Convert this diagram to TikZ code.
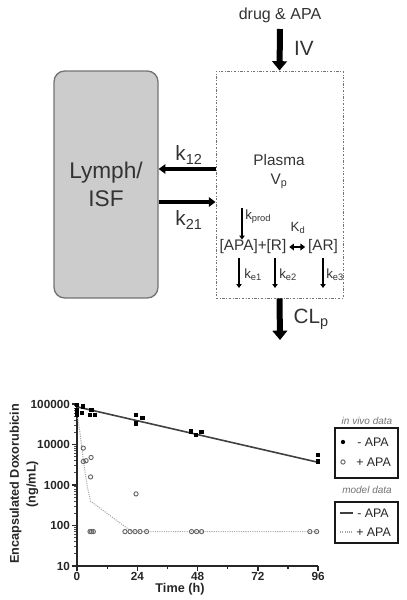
\documentclass[tikz,border=0pt]{standalone}
\usepackage{fontspec}
\setmainfont{Liberation Sans}
\usetikzlibrary{arrows.meta,calc}

\begin{document}
\begin{tikzpicture}[x=0.75pt,y=-0.75pt,
    compartment/.style ={draw=black!55, fill=black!20, line width=1pt, rounded corners=8pt,
      minimum width=78pt, minimum height=170.25pt, align=center,
      font=\fontsize{17}{21}\selectfont, text=black!80},
    plasmabox/.style ={draw=black!55, line width=0.7pt,
      dash pattern=on 1.8pt off 1.2pt on 0.6pt off 1.2pt,
      minimum width=95.25pt, minimum height=170.25pt},
    bigflow/.style ={line width=4.5pt, -{Triangle[width=11pt,length=7pt]}},
    flow/.style ={line width=2.4pt, -{Triangle[width=7pt,length=5pt]}},
    rate/.style ={line width=1.5pt, -{Triangle[width=4pt,length=3pt]}},
    bind/.style ={line width=2pt, {Triangle[width=5pt,length=3.5pt]}-{Triangle[width=5pt,length=3.5pt]}},
    biglab/.style ={font=\fontsize{15.5}{18}\selectfont, text=black!80},
    txt/.style ={font=\fontsize{11.5}{14}\selectfont, text=black!80, inner sep=1pt},
    small/.style ={font=\fontsize{10}{12}\selectfont, text=black!80, inner sep=0pt},
    ticklab/.style ={font=\bfseries\fontsize{8.8}{10}\selectfont, text=black!85, inner sep=1pt},
    axislab/.style ={font=\bfseries\fontsize{9.5}{12.5}\selectfont, text=black!85},
    legtitle/.style ={font=\itshape\fontsize{7.5}{9}\selectfont, text=black!55},
    legtext/.style ={font=\fontsize{9.3}{11}\selectfont, text=black!85, inner sep=0pt, anchor=west},
    axis/.style ={line width=1.1pt, black!85},
    legbox/.style ={line width=1.5pt, black!90}]
   \useasboundingbox (0,0) rectangle (407,600);

   % compartment model
   \node[compartment] (L) at (106,184.5) {Lymph/\\ISF};
   \node[plasmabox] (P) at (279.5,184.5) {};
   \node[font=\fontsize{12}{14}\selectfont, text=black!80] (dose) at (280,15) {drug \& APA};
   \coordinate (ivtop) at (280,29);
   \node[biglab] (iv) at (304,48) {IV};
   \node[txt, align=center] (plasma) at (279,172) {Plasma\\V\textsubscript{p}};
   \node[txt, inner sep=0pt] (apr) at (253,247) {[APA]+[R]};
   \node[txt, inner sep=0pt] (ar) at (323,247) {[AR]};
   \coordinate (kp) at (242,208);
   \coordinate (e1) at (239,288);
   \coordinate (e2) at (275,288);
   \coordinate (e3) at (323,288);
   \coordinate (clp) at (280,340);

   \draw[bigflow] (ivtop) to (P.north);
   \draw[flow] ($(P.west)+(0,-15.5)$) to ($(L.east)+(0,-15.5)$);
   \draw[flow] ($(L.east)+(0,17.5)$) to ($(P.west)+(0,17.5)$);
   \draw[bigflow] (P.south) to (clp);
   \draw[rate] (kp) to (kp |- apr.north);
   \draw[rate] (e1 |- apr.south) ++(0,4) to (e1);
   \draw[rate] (e2 |- apr.south) ++(0,4) to (e2);
   \draw[rate] (e3 |- ar.south) ++(0,4) to (e3);
   \draw[bind, shorten <=2pt, shorten >=2pt] (apr.east) to (ar.west);

   \node[biglab] (k12) at (189,155) {k\textsubscript{12}};
   \node[biglab] (k21) at (189,220) {k\textsubscript{21}};
   \node[biglab, anchor=west] (cl) at (289,319) {CL\textsubscript{p}};
   \node[small, anchor=west] (kprod) at (245,217) {k\textsubscript{prod}};
   \node[small] (kd) at (298,228) {K\textsubscript{d}};
   \node[small, anchor=west] (ke1) at (244,275) {k\textsubscript{e1}};
   \node[small, anchor=west] (ke2) at (279,275) {k\textsubscript{e2}};
   \node[small, anchor=west] (ke3) at (326,275) {k\textsubscript{e3}};

   % concentration-time plot
   \begin{scope}[shift={(77,606.5)}, x=1.884pt, y=30.375pt]
     \foreach \L in {1,...,4}
       \foreach \m in {2,...,9}
         \draw[black!70, line width=0.6pt] (0,{\L+log10(\m)}) -- ++(-2pt,0);
     \foreach \L/\lab in {1/10,2/100,3/1000,4/10000,5/100000}
       \draw[axis] (0,\L) -- ++(-3.8pt,0) node[left, ticklab] {\lab};
     \foreach \t in {12,36,60,84}
       \draw[axis, line width=0.8pt] (\t,1) -- ++(0,-2pt);
     \foreach \t in {0,24,48,72,96}
       \draw[axis] (\t,1) -- ++(0,-3.5pt) node[below, ticklab] {\t};
     \draw[axis] (0,5) -- (0,1) -- (96,1);

     % model data
     \draw[black!35, line width=0.8pt, dash pattern=on 0.8pt off 0.9pt]
       (0,4.77) -- (1.2,4.28) -- (2.5,3.62) -- (4.1,2.96) -- (5.4,2.6) -- (21.8,1.85) -- (96,1.85);
     \draw[black!75, line width=1.2pt] (0,4.93) -- (96,3.56);

     % in vivo data
     \foreach \t/\L in {0/4.98,0/4.86,0/4.78,0/4.73,1.9/4.77,2.5/4.94,5.2/4.73,5.8/4.86,7.2/4.73,
                        23.5/4.73,23.5/4.52,26.1/4.65,45.3/4.32,47.4/4.23,49.6/4.30,96/3.74,96/3.58}
       \fill[black] (\t,\L) +(-1.6pt,-1.6pt) rectangle +(1.6pt,1.6pt);
     \foreach \t/\L in {2.5/3.91,2.5/3.58,3.6/3.6,5.6/3.68,5.4/3.2,23.5/2.78,
                        5.2/1.85,5.8/1.85,6.5/1.85,19.1/1.85,21.1/1.85,23.1/1.85,25.1/1.85,27.7/1.85,
                        45.6/1.85,47.6/1.85,49.6/1.85,92.7/1.85,95.4/1.85}
       \draw[black!60, line width=0.7pt] (\t,\L) circle[radius=1.6pt];
   \end{scope}

   \node[axislab] (xlab) at (180,589) {Time (h)};
   \node[axislab, rotate=90, align=center] (ylab) at (24,484) {Encapsulated Doxorubicin\\(ng/mL)};

   % legend
   \node[legtitle] (vivo) at (367,421) {in vivo data};
   \draw[legbox] (335,428) rectangle (398,478);
   \fill[black] (343,442) circle[radius=1.6pt];
   \node[legtext] (minus1) at (357,442) {- APA};
   \draw[black!60, line width=0.7pt] (343,462) circle[radius=1.6pt];
   \node[legtext] (plus1) at (356,462) {+ APA};
   \node[legtitle] (model) at (367,490) {model data};
   \draw[legbox] (335,502) rectangle (398,543);
   \draw[black!75, line width=1.2pt] (340,513) -- (353,513);
   \node[legtext] (minus2) at (357,513) {- APA};
   \draw[black!35, line width=0.8pt, dash pattern=on 0.8pt off 0.9pt] (340,532) -- (353,532);
   \node[legtext] (plus2) at (356,532) {+ APA};
\end{tikzpicture}
\end{document}
